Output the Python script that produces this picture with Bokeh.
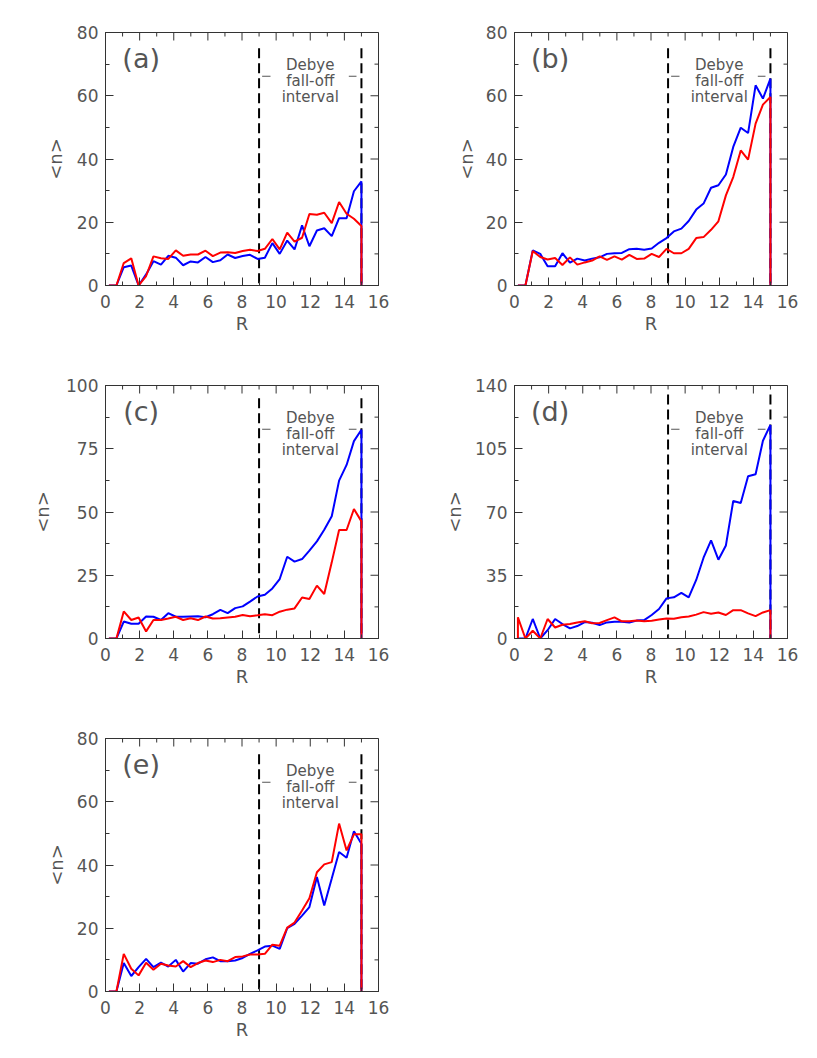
import math
from bokeh.plotting import figure
from bokeh.models import Range1d, SingleIntervalTicker, Label
from bokeh.layouts import gridplot
from bokeh.embed import file_html
from bokeh.resources import INLINE

# ---------------- data ----------------
R = [0.20, 0.64, 1.07, 1.51, 1.94, 2.38, 2.81, 3.25, 3.68, 4.12, 4.55, 4.99,
     5.42, 5.86, 6.29, 6.73, 7.16, 7.60, 8.04, 8.47, 8.91, 9.34, 9.78, 10.21,
     10.65, 11.08, 11.52, 11.95, 12.39, 12.82, 13.26, 13.69, 14.13, 14.56, 15.00]

A_BLUE = [0, 0, 5.8, 6.3, 0, 3.5, 7.7, 6.6, 9.4, 8.8, 6.4, 7.6, 7.3, 9.0, 7.4, 8.0,
          9.8, 8.7, 9.3, 9.7, 8.4, 8.8, 13.4, 10.0, 14.2, 11.4, 19.0, 12.4, 17.4,
          18.1, 15.6, 21.3, 21.3, 29.8, 32.9]
A_RED = [0, 0, 7.1, 8.6, 0, 3.0, 9.2, 8.6, 8.4, 11.1, 9.4, 9.8, 9.8, 11.0, 9.3, 10.4,
         10.5, 10.3, 10.9, 11.3, 10.9, 11.6, 14.7, 11.4, 16.7, 13.9, 15.1, 22.6, 22.4,
         23.0, 19.7, 26.4, 22.7, 21.1, 18.8]

B_BLUE = [0, 0, 11.1, 10.0, 6.1, 6.1, 10.2, 7.2, 8.5, 7.9, 8.5, 8.9, 10.0, 10.2, 10.3,
          11.5, 11.6, 11.3, 11.7, 13.5, 15.0, 17.1, 18.0, 20.4, 24.0, 25.9, 30.9, 31.7,
          35.1, 43.8, 49.9, 48.2, 63.3, 59.1, 65.4]
B_RED = [0, 0, 10.9, 9.0, 8.2, 8.7, 6.5, 8.9, 6.6, 7.3, 7.9, 9.2, 8.1, 9.2, 8.2, 9.7,
         8.4, 8.5, 10.0, 9.0, 11.6, 10.2, 10.2, 11.6, 15.0, 15.3, 17.6, 20.3, 28.5,
         34.3, 42.7, 39.8, 51.2, 57.2, 59.6]

C_BLUE = [0, 0, 6.7, 5.8, 5.8, 8.7, 8.6, 7.3, 10.0, 8.6, 8.6, 8.7, 8.8, 8.4, 9.6, 11.3,
          10.0, 12.0, 12.7, 14.6, 16.6, 17.3, 19.8, 23.5, 32.3, 30.4, 31.4, 34.7, 38.4,
          43.0, 48.3, 62.4, 68.6, 78.0, 82.5]
C_RED = [0, 0, 10.7, 7.3, 8.3, 2.8, 7.3, 7.3, 7.9, 8.6, 7.3, 8.0, 7.3, 8.7, 7.9, 8.0,
         8.3, 8.6, 9.3, 8.8, 9.2, 9.6, 9.2, 10.6, 11.4, 11.9, 16.2, 15.6, 20.9, 17.6,
         30.1, 42.9, 42.9, 51.2, 46.3]

D_BLUE = [0, 0, 10.8, 0, 4.6, 10.8, 8.0, 5.6, 6.9, 9.1, 8.7, 7.4, 8.9, 9.3, 9.3, 8.9,
          9.9, 10.2, 13.0, 16.3, 22.2, 22.8, 25.2, 22.8, 32.4, 44.7, 54.3, 43.6, 51.5,
          76.1, 75.0, 89.8, 90.9, 109.4, 118.2]
D_RED = [11.7, 0, 4.3, 0, 10.8, 6.1, 7.6, 8.0, 8.9, 9.5, 8.4, 8.6, 10.2, 11.7, 9.5, 9.5,
         9.9, 9.5, 9.8, 10.5, 11.1, 10.9, 11.8, 12.2, 13.2, 14.6, 13.7, 14.4, 13.0,
         15.7, 15.7, 13.9, 12.4, 14.4, 15.7]

E_BLUE = [0, 0, 9.0, 4.9, 7.7, 10.3, 7.7, 9.1, 7.9, 10.0, 6.3, 9.0, 8.8, 10.2, 10.8, 9.6,
          9.6, 9.8, 10.6, 11.9, 13.0, 14.2, 14.5, 13.5, 20.0, 21.4, 24.0, 26.7, 36.2,
          27.2, 35.7, 44.1, 42.3, 50.7, 46.7]
E_RED = [0, 0, 11.9, 7.2, 5.1, 9.1, 6.9, 8.8, 8.2, 7.9, 9.6, 7.7, 9.0, 9.8, 9.3, 10.0,
         9.6, 10.9, 11.1, 11.7, 11.7, 11.9, 14.8, 14.5, 20.2, 21.8, 25.6, 29.5, 37.7,
         40.2, 40.9, 53.1, 44.6, 49.7, 49.7]

PANEL_TAGS = ["(a)", "(b)", "(c)", "(d)", "(e)"]
Y_MAX = [80, 80, 100, 140, 80]
Y_STEP = [20, 20, 25, 35, 20]
X_MAX = 16
X_STEP = 2
DEBYE_R = [9, 15]
X_LABEL = "R"
Y_LABEL = "<n>"

TXT = "#555555"
AXC = "#333333"
FONT = "DejaVu Sans"
# per-panel gap between y tick labels and the y-axis title
Y_TITLE_STANDOFF = [8, 6, 10, 7, 7]


def style_axis(ax):
    ax.axis_line_color = AXC
    ax.axis_line_width = 1
    ax.major_tick_line_color = AXC
    ax.minor_tick_line_color = AXC
    ax.major_tick_in = 8
    ax.major_tick_out = 0
    ax.minor_tick_in = 4
    ax.minor_tick_out = 0
    ax.major_label_text_font = FONT
    ax.major_label_text_color = TXT
    ax.major_label_text_font_size = "17px"
    ax.axis_label_text_font = FONT
    ax.axis_label_text_color = TXT
    ax.axis_label_text_font_style = "normal"
    ax.axis_label_text_font_size = "18px"


def make_panel(i, blue, red, col, row, last_row):
    ymax = Y_MAX[i]
    step = Y_STEP[i]
    p = figure(frame_width=273, frame_height=253,
               x_range=Range1d(0, X_MAX), y_range=Range1d(0, ymax),
               output_backend="svg", toolbar_location=None,
               min_border_left=105 if col == 0 else 98,
               min_border_right=38 if col == 0 else 22,
               min_border_top=32 if row == 0 else 24,
               min_border_bottom=50 if last_row else 76,
               x_axis_label=X_LABEL, y_axis_label=Y_LABEL)
    p.grid.visible = False
    p.outline_line_color = AXC
    p.outline_line_width = 1
    p.background_fill_color = "white"
    p.border_fill_color = "white"

    p.xaxis.ticker = SingleIntervalTicker(interval=X_STEP, num_minor_ticks=2)
    p.yaxis.ticker = SingleIntervalTicker(interval=step, num_minor_ticks=2)
    style_axis(p.xaxis[0])
    style_axis(p.yaxis[0])
    p.xaxis.major_label_standoff = 9
    p.xaxis.axis_label_standoff = 2
    p.yaxis.major_label_standoff = 7
    p.yaxis.axis_label_standoff = Y_TITLE_STANDOFF[i]

    # mirrored inward ticks on the top and right edges (no labels)
    xmaj = [v * X_STEP for v in range(X_MAX // X_STEP + 1)]
    xmin = [v * X_STEP + X_STEP / 2 for v in range(X_MAX // X_STEP)]
    nmaj = int(round(ymax / step))
    ymaj = [v * step for v in range(nmaj + 1)]
    ymin = [v * step + step / 2 for v in range(nmaj)]
    p.ray(x=xmaj, y=[ymax] * len(xmaj), length=8, length_units="screen",
          angle=-math.pi / 2, line_color=AXC, line_width=1)
    p.ray(x=xmin, y=[ymax] * len(xmin), length=4, length_units="screen",
          angle=-math.pi / 2, line_color=AXC, line_width=1)
    p.ray(x=[X_MAX] * len(ymaj), y=ymaj, length=8, length_units="screen",
          angle=math.pi, line_color=AXC, line_width=1)
    p.ray(x=[X_MAX] * len(ymin), y=ymin, length=4, length_units="screen",
          angle=math.pi, line_color=AXC, line_width=1)

    # Debye fall-off interval boundaries
    p.segment(x0=DEBYE_R, y0=[ymax - 5] * 2, x1=DEBYE_R, y1=[0, 0],
              line_color="black", line_width=2, line_dash="10 5")

    xs = [R[0]] + R + [R[-1]]
    p.line(xs, [0] + blue + [0], line_color="#0000ff", line_width=2)
    p.line(xs, [0] + red + [0], line_color="#ff0000", line_width=2)

    def lab(x, frac, text, size, align="center", baseline="alphabetic"):
        p.add_layout(Label(x=x, y=ymax * frac, text=text, text_align=align,
                           text_baseline=baseline, text_font=FONT,
                           text_font_size=size, text_color=TXT))

    lab(12, 0.871, "Debye", "15px")
    lab(12, 0.810, "fall-off", "15px")
    lab(12, 0.744, "interval", "15px")
    # small bracket dashes either side of "fall-off"
    yd = ymax * 0.827
    p.segment(x0=[9.18, 14.26], y0=[yd, yd], x1=[9.67, 14.71], y1=[yd, yd],
              line_color=TXT, line_width=1.2)
    lab(2.09, 0.897, PANEL_TAGS[i], "27px", baseline="middle")
    return p


pa = make_panel(0, A_BLUE, A_RED, 0, 0, False)
pb = make_panel(1, B_BLUE, B_RED, 1, 0, False)
pc = make_panel(2, C_BLUE, C_RED, 0, 1, False)
pd = make_panel(3, D_BLUE, D_RED, 1, 1, False)
pe = make_panel(4, E_BLUE, E_RED, 0, 2, True)

grid = gridplot([[pa, pb], [pc, pd], [pe, None]], toolbar_location=None)

open("out.html", "w").write(file_html(grid, INLINE))
